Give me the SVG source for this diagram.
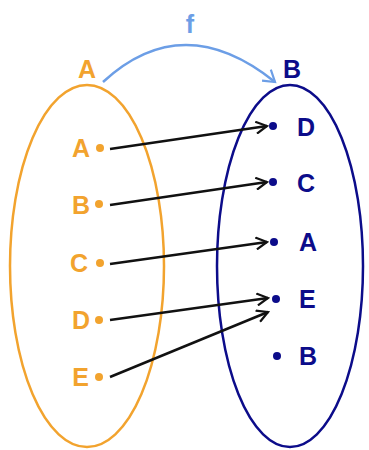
<svg xmlns="http://www.w3.org/2000/svg" width="369" height="450" viewBox="0 0 369 450">
<style>
.lo{font-family:"Liberation Sans",Arial,sans-serif;font-weight:bold;font-size:25px;fill:#F2A32E}
.lb{font-family:"Liberation Sans",Arial,sans-serif;font-weight:bold;font-size:25px;fill:#0C0C8A}
.dotL{fill:#F2A32E}
.dotR{fill:#0C0C8A}
.conn{stroke:#111;stroke-width:2.5;fill:none;marker-end:url(#ah)}
</style>
<defs>
<marker id="ah" markerWidth="14" markerHeight="14" refX="12" refY="7" orient="auto" markerUnits="userSpaceOnUse">
<path d="M1,1 L12,7 L1,13" fill="none" stroke="#111" stroke-width="2.2"/>
</marker>
<marker id="ahf" markerWidth="16" markerHeight="16" refX="13" refY="8" orient="auto" markerUnits="userSpaceOnUse">
<path d="M2,1 L13,8 L2,15" fill="none" stroke="#6C9EE6" stroke-width="2.2"/>
</marker>
</defs>
<g id="setA">
<ellipse cx="87" cy="266" rx="77" ry="181" fill="none" stroke="#F2A32E" stroke-width="2.5"/>
<text class="lo" x="87" y="78" text-anchor="middle" font-size="22">A</text>
</g>
<g id="setB">
<ellipse cx="290" cy="266" rx="73" ry="181" fill="none" stroke="#0C0C8A" stroke-width="2.5"/>
<text class="lb" x="292" y="78" text-anchor="middle" font-size="22">B</text>
</g>
<g id="a1"><text class="lo" x="90" y="157" text-anchor="end">A</text><circle class="dotL" cx="100" cy="148" r="4"/></g>
<g id="a2"><text class="lo" x="90" y="214" text-anchor="end">B</text><circle class="dotL" cx="99" cy="204" r="4"/></g>
<g id="a3"><text class="lo" x="88" y="272" text-anchor="end">C</text><circle class="dotL" cx="100" cy="263" r="4"/></g>
<g id="a4"><text class="lo" x="90" y="329" text-anchor="end">D</text><circle class="dotL" cx="99" cy="320" r="4"/></g>
<g id="a5"><text class="lo" x="89" y="386" text-anchor="end">E</text><circle class="dotL" cx="99" cy="377" r="4"/></g>
<g id="b1"><circle class="dotR" cx="273" cy="126" r="4"/><text class="lb" x="297" y="136">D</text></g>
<g id="b2"><circle class="dotR" cx="273" cy="182" r="4"/><text class="lb" x="297" y="192">C</text></g>
<g id="b3"><circle class="dotR" cx="274" cy="242" r="4"/><text class="lb" x="299" y="251">A</text></g>
<g id="b4"><circle class="dotR" cx="276" cy="299" r="4"/><text class="lb" x="299" y="308">E</text></g>
<g id="b5"><circle class="dotR" cx="277" cy="356" r="4"/><text class="lb" x="299" y="365">B</text></g>
<g id="connectors">
<path d="M103,82 Q183,8 275,82" fill="none" stroke="#6C9EE6" stroke-width="2.5" marker-end="url(#ahf)"/>
<text x="190" y="33" text-anchor="middle" font-family="Liberation Sans,Arial,sans-serif" font-weight="bold" font-size="25" fill="#6C9EE6">f</text>
<line class="conn" x1="110" y1="149" x2="267" y2="126"/>
<line class="conn" x1="110" y1="205" x2="267" y2="182"/>
<line class="conn" x1="110" y1="264" x2="267" y2="242"/>
<line class="conn" x1="110" y1="320" x2="268" y2="298"/>
<line class="conn" x1="110" y1="377" x2="268" y2="312"/>
</g>
</svg>
